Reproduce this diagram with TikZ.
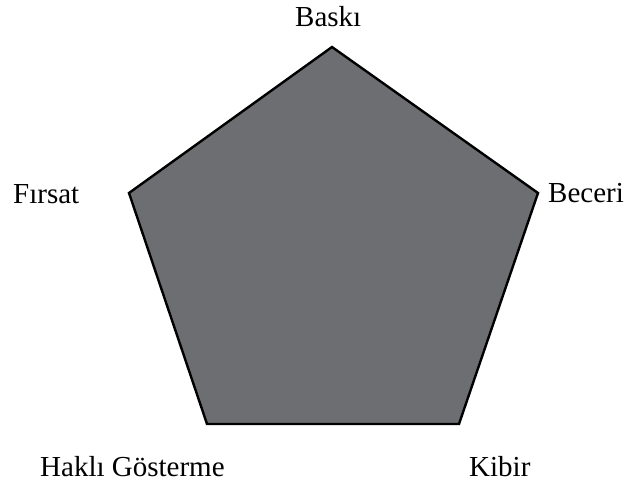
\documentclass[tikz,border=0pt]{standalone}
\usepackage{fontspec}
\setmainfont{Liberation Serif}
\definecolor{pentfill}{HTML}{6D6E71}
\begin{document}
\begin{tikzpicture}[x=1pt,y=1pt,
  lbl/.style={anchor=base west,inner sep=0pt,font=\fontsize{29}{34}\selectfont}]
\useasboundingbox (0,0) rectangle (624,485);
\coordinate (t) at (332,438);
\coordinate (r) at (538,292);
\coordinate (br) at (459,61);
\coordinate (bl) at (207,61);
\coordinate (l) at (129,292);
\draw[fill=pentfill,line width=2.4pt,line join=miter] (t) -- (r) -- (br) -- (bl) -- (l) -- cycle;
\node[lbl] (baski) at (295,458) {Baskı};
\node[lbl] (firsat) at (13,281) {Fırsat};
\node[lbl] (beceri) at (548,282) {Beceri};
\node[lbl] (hakli) at (40,9) {Haklı Gösterme};
\node[lbl] (kibir) at (469,9) {Kibir};
\end{tikzpicture}
\end{document}
